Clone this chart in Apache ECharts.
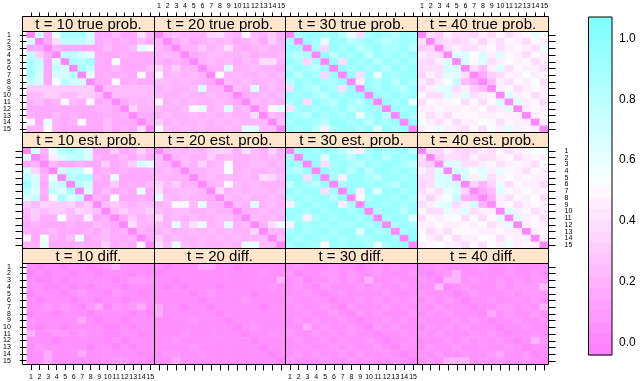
<!DOCTYPE html>
<html><head><meta charset="utf-8">
<script src="https://cdn.jsdelivr.net/npm/echarts@6/dist/echarts.min.js"></script>
<style>html,body{margin:0;padding:0;background:#fff}#c{width:640px;height:381px}</style>
</head><body><div id="c"></div>
<script>
// ---------------- data ----------------
const categories = ['1','2','3','4','5','6','7','8','9','10','11','12','13','14','15'];
const stripLabels = ['t = 10 true prob.','t = 20 true prob.','t = 30 true prob.','t = 40 true prob.',
  't = 10 est. prob.','t = 20 est. prob.','t = 30 est. prob.','t = 40 est. prob.',
  't = 10 diff.','t = 20 diff.','t = 30 diff.','t = 40 diff.'];
const colorbarTicks = [0, 0.2, 0.4, 0.6, 0.8, 1.0];
// each row: 15 cells, one char per cell, level 0..20 (0-9, A-K), value = level / 20
const t10True = ["0E3CHHHE3353384","E038FFFE3434353","3304333335335DA","F630FGEC3334333","HF3D0HGI33B3333",
  "HF3FE0HF3353335","HE3EEG0C34343A3","FE3BGEE033A3433","666666660555555","556655665055555",
  "4534A54A3403545","333333334430744","433534333434033","A3C434B33533303","44A433333534380"];
const t20True = ["0454447854A5464","403534545345364","530446458434544","454034554453445","434304545354884",
  "74644044D445443","A454540A4544545","554544305454454","45445D44054D454","544544544034545",
  "A45454454305454","5445AC45D4504AD","454454545448054","645445454544505","A545454454DD550"];
const t30True = ["0HJJHJGC8HJHGJH","H0JHCJJGHJHGHJH","JJ0H7JHJGHJHHJG","HGH0JGJHJFJHJHJ","JH7H0J8JHJGJHJH",
  "HJHGJ0JHJHJGJHJ","JGJH7J0J8JCJHJJ","GJHJHHJ09JHJGJH","8JHGJH8J0JHJHGJ","JHJHGJHJJ0JHJHJ",
  "HJ8JHGJHGJ0JHJC","8HJHJHJGHJH0JHJ","JHGJHJHJCHJG0JH","HJJHGJJHJGJHJ0J","JHJG9HJJHJDJHJ0"];
const t40True = ["086988798A89ACB","8078789798A98A9","67089889A89A98C","9880DDBE9DA98A9","879D0EAD89B9A89",
  "888EE0859D8A998","798DD80368A9B9A","979BF530598A9B8","89CD896509A89A9","A88D9D8990D9A89",
  "8A9AB8A8AD0D9A8","99A99A9A89D09A9","A898AAA99A9909A","B98A899BA8A9909","9AC998A8B9D9A90"];
const t10Est = ["0E4CGHGD3363474","D039EFGE4335353","3405334336346EC","E730EGFB3434334","GE4C0GHH43C3333",
  "IE3EF0GE3363435","GD4FDH0D35343C3","EF3AHDF043B3343","657667560565455","565665765056556",
  "4634B5493403645","343334335430844","434533343534043","93B435C34533403","44C333433634390"];
const t20Est = ["045454676485474","504544645445454","54054745A445545","45404455B454454","544404545454875",
  "75644045A545444","845554084545545","C54544305454454","45AA5C44054D454","545544544044545",
  "845454455305454","54C58C45D45048C","454454545447054","645445454544505","85C5454454CC550"];
const t30Est = ["0HJHJHGD9HJHHJG","H0JJDJHGJHJGJHJ","JH0J8HJHGJHJJHG","HGJ0JHJGJGJJHJH","JJ8J0H9JJHGJJHJ",
  "GJHGJ0HJJHJHGJJ","JHJJ8H0J9JDJJHJ","HJHJJGJ0AHJJHJH","9HJHJJ9H0JJHJHJ","JJHJHJJHJ0HJJGJ",
  "JH9HJHJJHJ0HJJD","9JHJHJHHJHJ0HJH","HJHJJHJJDJHH0HJ","JHJJHJHJHHJJH0J","HJJHAJHJJHCHJJ0"];
const t40Est = ["087987898A89ABB","8068879889A89A9","760DD889A89A98B","98D0EEBD9CA98A9","88EE0E9C89B9A99",
  "78DEE0747C8A998","898CD7035DA9B9A","979BF430498A9B8","89CD89E409A89A9","A88C9D8990D9A89",
  "8A9AB8A8AC0D9A8","99A99A9A89C09A9","A898AAA99A9909A","B98A899BA8A9909","9AB998A8B9C9A90"];
const t10Diff = ["101101101241111","010110110111011","100101111101222","110010101110111","011101211021101",
  "101110110110111","112121023021231","011011101111010","211111310110111","101101111001011",
  "411221211001101","111011111010111","121111101101011","113111311111101","113111111122110"];
const t20Diff = ["101113311011111","011111111111211","110111111111114","101011101111121","111101211110111",
  "111110111121111","311011011111011","311111101111111","111121110111111","111111111012111",
  "111211111101121","112111111110111","111121111111011","122112111111101","113111111111110"];
const t30Diff = ["121112110121211","201122121121112","120112121411211","121021112121121","112101211112111",
  "211210112121212","121121021112121","112112102121112","121211210112121","114121121021211",
  "211212121101121","121121211210112","112112121121021","121211212112101","211121121211210"];
const t40Diff = ["112111121121112","101241111121121","210441211212122","115012111212225","211101211121222",
  "121210112112121","212111011221214","121211103121121","211121210112112","121212111011211",
  "212111212101121","111212121210142","121121121121011","212112112311201","121444121211210"];

const panels = [t10True, t20True, t30True, t40True, t10Est, t20Est, t30Est, t40Est, t10Diff, t20Diff, t30Diff, t40Diff];

// ---------------- style / layout ----------------
const VMIN = -0.04, VMAX = 1.07, NB = 30;
const font = '"Liberation Sans", Arial, Helvetica, sans-serif';
const xEdges = [22.5, 154.5, 285.5, 417.5, 548.5];
const yEdges = [[16.5, 31.5, 132.5], [132.5, 147.5, 248.5], [248.5, 263.5, 364.5]];

function decode(rows) {
  const out = [];
  rows.forEach((s, r) => { for (let c = 0; c < s.length; c++) out.push([c, r, parseInt(s[c], 21) / 20]); });
  return out;
}
function bandColor(i) {
  // reversed cm.colors(30): magenta (low) -> white -> cyan (high)
  if (i < NB / 2) { const s = (NB / 2 - i) / NB; const g = Math.round(255 * (1 - s)); return `rgb(255,${g},255)`; }
  const s = (i - (NB / 2 - 1)) / NB; const rr = Math.round(255 * (1 - s)); return `rgb(${rr},255,255)`;
}
const bw = (VMAX - VMIN) / NB;
const bands = [];
for (let i = 0; i < NB; i++) bands.push([i, VMIN + i * bw, VMIN + (i + 1) * bw]);
const pieces = bands.map(b => ({ gte: b[1], lt: b[2], color: bandColor(b[0]) }));

const grids = [], xAxes = [], yAxes = [], series = [], graphics = [];
panels.forEach((pd, p) => {
  const r = Math.floor(p / 4), c = p % 4;
  const left = xEdges[c], w = xEdges[c + 1] - xEdges[c];
  const sTop = yEdges[r][0], pTop = yEdges[r][1], pBot = yEdges[r][2];
  grids.push({ left, top: pTop, width: w, height: pBot - pTop, containLabel: false });
  const isTop = r === 0, isBottom = r === 2;
  xAxes.push({
    type: 'category', data: categories, gridIndex: p,
    position: isTop ? 'top' : 'bottom', offset: isTop ? (pTop - sTop) : 0,
    show: isTop || isBottom,
    axisLine: { show: false },
    axisTick: { show: true, alignWithLabel: true, length: isTop ? 4 : 6, lineStyle: { color: '#000', width: 1 } },
    axisLabel: { show: (isTop && (c === 1 || c === 3)) || (isBottom && (c === 0 || c === 2)),
      interval: 0, fontSize: 7, color: '#000', fontFamily: font, margin: isTop ? 7 : 10 },
    splitLine: { show: false }
  });
  const isLeft = c === 0, isRight = c === 3;
  yAxes.push({
    type: 'category', data: categories, gridIndex: p, inverse: true,
    position: isLeft ? 'left' : 'right',
    show: isLeft || isRight,
    axisLine: { show: false },
    axisTick: { show: true, alignWithLabel: true, length: 7, lineStyle: { color: '#000', width: 1 } },
    axisLabel: { show: (isLeft && r !== 1) || (isRight && r === 1),
      interval: 0, fontSize: 7, color: '#000', fontFamily: font, margin: 16 },
    splitLine: { show: false }
  });
  series.push({
    type: 'heatmap', xAxisIndex: p, yAxisIndex: p, data: decode(pd),
    itemStyle: { borderWidth: 0 }, emphasis: { disabled: true }, progressive: 0, silent: true
  });
  graphics.push({ type: 'rect', z: 100, shape: { x: left, y: sTop, width: w, height: pTop - sTop },
    style: { fill: '#FFE5CC', stroke: '#000', lineWidth: 1 } });
  graphics.push({ type: 'text', z: 101, style: { text: stripLabels[p], x: left + w / 2, y: (sTop + pTop) / 2 + 0.5,
    align: 'center', verticalAlign: 'middle', font: '15px ' + font, fill: '#000' } });
  graphics.push({ type: 'rect', z: 100, shape: { x: left, y: pTop, width: w, height: pBot - pTop },
    style: { fill: 'none', stroke: '#000', lineWidth: 1 } });
});

// colorbar
const cbLeft = 588.5, cbTop = 17, cbW = 23.5, cbH = 338;
grids.push({ left: cbLeft, top: cbTop, width: cbW, height: cbH, containLabel: false });
xAxes.push({ type: 'value', gridIndex: 12, min: 0, max: 1, show: false });
yAxes.push({ type: 'value', gridIndex: 12, min: VMIN, max: VMAX, position: 'right',
  axisLine: { show: false }, splitLine: { show: false },
  axisTick: { show: true, length: 5, customValues: colorbarTicks, lineStyle: { color: '#000' } },
  axisLabel: { show: true, customValues: colorbarTicks, formatter: v => Number(v).toFixed(1),
    fontSize: 12, color: '#000', fontFamily: font, margin: 7 } });
series.push({
  type: 'custom', xAxisIndex: 12, yAxisIndex: 12, data: bands, silent: true,
  encode: { y: [1, 2] },
  renderItem: (params, api) => {
    const i = api.value(0), lo = api.value(1), hi = api.value(2);
    const p1 = api.coord([0, lo]), p2 = api.coord([1, hi]);
    return { type: 'rect', shape: { x: p1[0], y: p2[1], width: p2[0] - p1[0], height: p1[1] - p2[1] + 0.5 },
      style: { fill: bandColor(i) } };
  }
});
graphics.push({ type: 'rect', z: 100, shape: { x: cbLeft, y: cbTop, width: cbW, height: cbH },
  style: { fill: 'none', stroke: '#000', lineWidth: 1 } });

const chart = echarts.init(document.getElementById('c'), null, { renderer: 'canvas' });
chart.setOption({
  animation: false,
  backgroundColor: '#fff',
  grid: grids, xAxis: xAxes, yAxis: yAxes,
  visualMap: { type: 'piecewise', show: false, dimension: 2, seriesIndex: [0,1,2,3,4,5,6,7,8,9,10,11], pieces },
  series,
  graphic: graphics
});
</script></body></html>
